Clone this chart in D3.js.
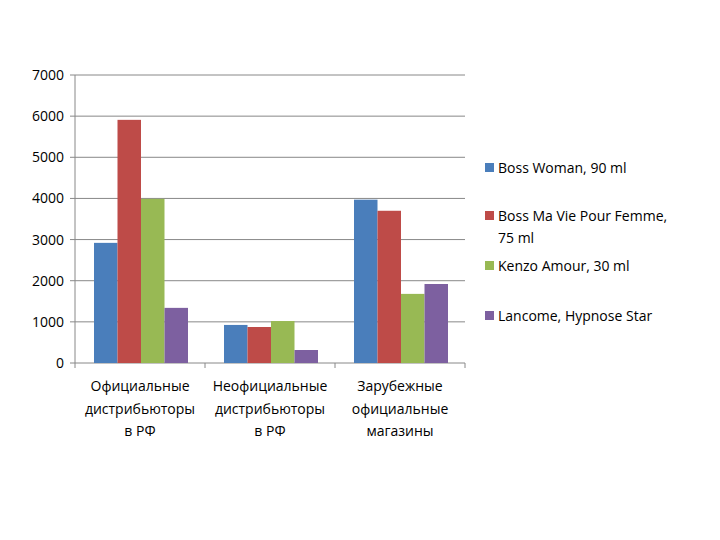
<!DOCTYPE html>
<html><head><meta charset="utf-8">
<script src="https://cdn.jsdelivr.net/npm/d3@7"></script>
<style>body{margin:0;background:#fff}</style>
</head><body><div id="chart"></div>
<script>
const categories = [
  ['Официальные', 'дистрибьюторы', 'в РФ'],
  ['Неофициальные', 'дистрибьюторы', 'в РФ'],
  ['Зарубежные', 'официальные', 'магазины']
];
const seriesNames = ['Boss Woman, 90 ml', 'Boss Ma Vie Pour Femme, 75 ml', 'Kenzo Amour, 30 ml', 'Lancome, Hypnose Star'];
const seriesColors = ['#4a7ebb', '#be4b48', '#98b954', '#7d60a0'];
const bossWoman = [2920, 925, 3970];
const bossMaVie = [5910, 875, 3700];
const kenzo = [3990, 1020, 1680];
const lancome = [1340, 316, 1920];
const yTicks = [0, 1000, 2000, 3000, 4000, 5000, 6000, 7000];

const values = [bossWoman, bossMaVie, kenzo, lancome];
const font = 'Open Sans, sans-serif';

const svg = d3.select('#chart').append('svg').attr('width', 720).attr('height', 540);
const plotL = 75, plotR = 465, plotT = 75, plotB = 363;

const y = d3.scaleLinear().domain([0, 7000]).range([plotB, plotT]);
const x0 = d3.scaleBand().domain(d3.range(3)).range([plotL, plotR]);
const x1 = d3.scaleBand().domain(d3.range(4)).range([19, 113]);

// grid
svg.selectAll('.grid').data(yTicks).join('line')
  .attr('x1', plotL - 5).attr('x2', plotR)
  .attr('y1', d => y(d)).attr('y2', d => y(d))
  .attr('stroke', '#888').attr('stroke-width', 1);
svg.append('line').attr('x1', plotL).attr('x2', plotL).attr('y1', plotT).attr('y2', plotB).attr('stroke', '#888');
svg.selectAll('.xt').data(d3.range(4)).join('line')
  .attr('x1', d => plotL + d * x0.bandwidth()).attr('x2', d => plotL + d * x0.bandwidth())
  .attr('y1', plotB).attr('y2', plotB + 5).attr('stroke', '#888');

svg.selectAll('.yl').data(yTicks).join('text')
  .attr('x', 64).attr('y', d => y(d) + 5)
  .attr('text-anchor', 'end').attr('font-family', font).attr('font-size', 14).attr('fill', '#000')
  .text(d => d);

// bars
values.forEach((arr, s) => {
  svg.selectAll('.b' + s).data(arr).join('rect')
    .attr('x', (d, i) => x0(i) + x1(s)).attr('width', x1.bandwidth())
    .attr('y', d => y(d)).attr('height', d => plotB - y(d))
    .attr('fill', seriesColors[s]);
});

// category labels
categories.forEach((lines, i) => {
  const t = svg.append('text').attr('text-anchor', 'middle')
    .attr('font-family', font).attr('font-size', 14).attr('fill', '#000');
  lines.forEach((l, k) => t.append('tspan')
    .attr('x', x0(i) + x0.bandwidth() / 2).attr('y', 391 + k * 22.5).text(l));
});

// legend
const legY = [168, 216, 266, 316];
seriesNames.forEach((n, s) => {
  svg.append('rect').attr('x', 485).attr('y', legY[s] - 5).attr('width', 9).attr('height', 9).attr('fill', seriesColors[s]);
  const t = svg.append('text').attr('font-family', font).attr('font-size', 14).attr('fill', '#000');
  if (s === 1) {
    t.append('tspan').attr('x', 498).attr('y', legY[s] + 5).text('Boss Ma Vie Pour Femme,');
    t.append('tspan').attr('x', 498).attr('y', legY[s] + 27).text('75 ml');
  } else {
    t.append('tspan').attr('x', 498).attr('y', legY[s] + 5).text(n);
  }
});
</script>
</body></html>
